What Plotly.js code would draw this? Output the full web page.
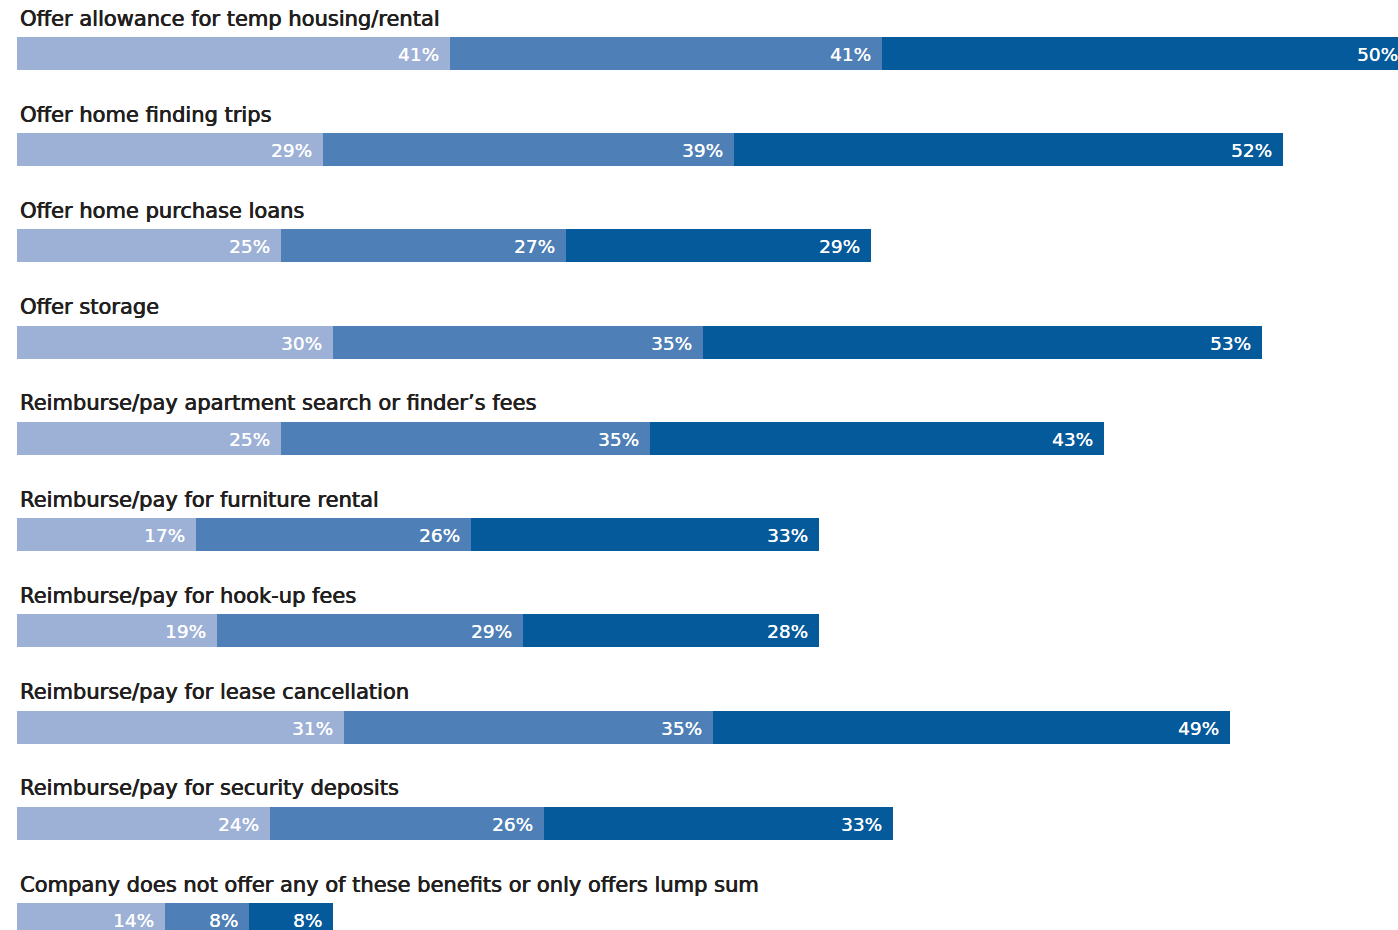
<!DOCTYPE html>
<html>
<head>
<meta charset="utf-8">
<script src="https://cdn.plot.ly/plotly-3.0.1.min.js"></script>
<style>
  html, body { margin: 0; padding: 0; background: #ffffff; overflow: hidden; }
  #chart { width: 1420px; height: 930px; }
</style>
</head>
<body>
<div id="chart"></div>
<script>
// Housing-related relocation benefits, three stacked survey segments per benefit
const categories = [
  "Offer allowance for temp housing/rental",
  "Offer home finding trips",
  "Offer home purchase loans",
  "Offer storage",
  "Reimburse/pay apartment search or finder\u2019s fees",
  "Reimburse/pay for furniture rental",
  "Reimburse/pay for hook-up fees",
  "Reimburse/pay for lease cancellation",
  "Reimburse/pay for security deposits",
  "Company does not offer any of these benefits or only offers lump sum"
];
const seriesA = [41, 29, 25, 30, 25, 17, 19, 31, 24, 14];
const seriesB = [41, 39, 27, 35, 35, 26, 29, 35, 26, 8];
const seriesC = [50, 52, 29, 53, 43, 33, 28, 49, 33, 8];

const colors = ["#9db1d7", "#4e7fb6", "#055a9c"];
const series = [seriesA, seriesB, seriesC];

const FONT = "'DejaVu Sans', sans-serif";
const INK = "#231f20";

const traces = series.map((vals, i) => ({
  type: "bar",
  orientation: "h",
  y: categories,
  x: vals,
  width: 0.343,
  marker: { color: colors[i], line: { width: 0 } },
  hoverinfo: "skip",
  showlegend: false
}));

const annotations = [];
// Category labels above each bar (a thin shadow gives a medium weight)
categories.forEach(c => {
  annotations.push({
    xref: "x", yref: "y", x: 0, y: c,
    xanchor: "left", yanchor: "middle",
    xshift: 1, yshift: 35,
    text: c, showarrow: false,
    font: { family: FONT, size: 21, color: INK,
            shadow: "0.45px 0 0 " + INK + ", -0.2px 0 0 " + INK }
  });
});
// Percentage labels right-aligned at the end of each segment
categories.forEach((c, r) => {
  let cum = 0;
  series.forEach(vals => {
    cum += vals[r];
    annotations.push({
      xref: "x", yref: "y", x: cum, y: c,
      xanchor: "right", yanchor: "middle",
      xshift: -9, yshift: -1,
      text: vals[r] + "%", showarrow: false,
      font: { family: FONT, size: 18.5, color: "#ffffff",
              shadow: "0.3px 0 0 #ffffff" }
    });
  });
});

// The plot area runs a little past the right edge of the page, which clips the longest bar
const layout = {
  width: 1420, height: 930,
  margin: { l: 17, r: 0, t: 0, b: 0, pad: 0 },
  paper_bgcolor: "#ffffff", plot_bgcolor: "#ffffff",
  barmode: "stack",
  xaxis: { range: [0, 133.0], visible: false, fixedrange: true },
  yaxis: { type: "category", range: [9.109, -0.556], visible: false, fixedrange: true },
  annotations: annotations
};

Plotly.newPlot("chart", traces, layout, { displayModeBar: false, staticPlot: true });
</script>
</body>
</html>
